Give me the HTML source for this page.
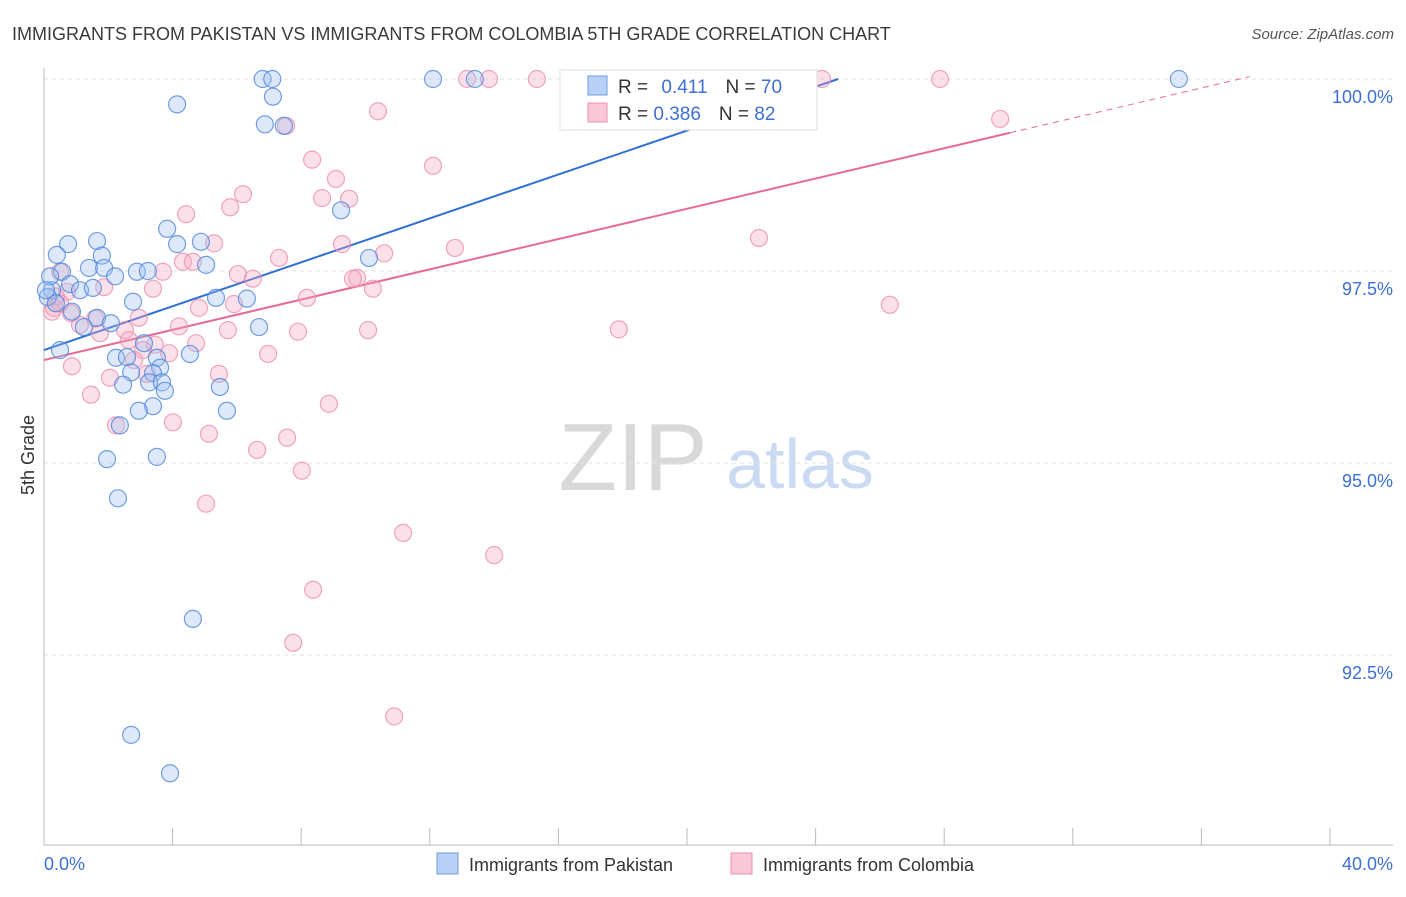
<!DOCTYPE html>
<html><head><meta charset="utf-8"><style>
body{margin:0;background:#fff;font-family:"Liberation Sans",sans-serif;}
svg text{font-family:"Liberation Sans",sans-serif;}
</style></head><body>
<svg id="chart" width="1406" height="892" viewBox="0 0 1406 892" xmlns="http://www.w3.org/2000/svg">
<text x="12" y="40" font-size="18" fill="#3a3a3a">IMMIGRANTS FROM PAKISTAN VS IMMIGRANTS FROM COLOMBIA 5TH GRADE CORRELATION CHART</text>
<text x="1394" y="39" font-size="15" fill="#555" text-anchor="end" font-style="italic">Source: ZipAtlas.com</text>
<text x="0" y="0" font-size="18" fill="#333" text-anchor="middle" transform="translate(34,455) rotate(-90)">5th Grade</text>
<g>
<text x="633" y="490" font-size="96" fill="#d8d8d8" text-anchor="middle" font-family="Liberation Serif">ZIP</text>
<text x="800" y="488" font-size="70" fill="#c9daf2" text-anchor="middle">atlas</text>
</g>
<g id="grid"></g>
<g id="axes"></g>
<g id="trends"></g>
<g id="points"></g>
<g>
<rect x="560" y="70" width="257" height="60" fill="#fff" stroke="#ddd"/>
<rect x="588" y="76" width="19" height="19" fill="#b9d0f5" stroke="#6d9be6"/>
<text x="618" y="93" font-size="19" fill="#333">R = <tspan fill="#3d6fd4" dx="8">0.411</tspan><tspan dx="18">N = </tspan><tspan fill="#3d6fd4">70</tspan></text>
<rect x="588" y="103" width="19" height="19" fill="#f9c7d6" stroke="#ec8fae"/>
<text x="618" y="120" font-size="19" fill="#333">R = <tspan fill="#3d6fd4">0.386</tspan><tspan dx="18">N = </tspan><tspan fill="#3d6fd4">82</tspan></text>
</g>
<g>
<rect x="437" y="853" width="21" height="21" fill="#b9d0f5" stroke="#6d9be6"/>
<text x="469" y="871" font-size="18" fill="#333">Immigrants from Pakistan</text>
<rect x="731" y="853" width="21" height="21" fill="#f9c7d6" stroke="#ec8fae"/>
<text x="763" y="871" font-size="18" fill="#333">Immigrants from Colombia</text>
</g>
</svg>
<script>
const yTicks=[100,97.5,95,92.5];
const yTickLabels=["100.0%","97.5%","95.0%","92.5%"];
const xTicks=[0,4,8,12,16,20,24,28,32,36,40];
const xEndLabels=["0.0%","40.0%"];
const pakX=[6.8,7.1,12.1,13.4,16.4,35.3,4.14,7.12,6.87,7.46,9.24,3.83,1.65,0.75,0.40,1.80,4.88,4.14,5.04,1.40,1.87,2.89,3.23,2.21,0.56,0.81,1.12,1.52,0.25,0.12,0.37,0.87,2.77,5.35,6.31,10.11,1.65,2.08,1.24,6.69,0.50,3.11,4.54,2.24,2.58,3.51,3.61,3.39,2.71,2.46,3.27,3.67,3.76,5.47,3.39,2.95,5.69,2.36,1.96,3.51,2.30,4.63,2.71,3.92,0.19,0.06];
const pakY=[100,100,100,100,100,100,99.67,99.77,99.41,99.39,98.29,98.05,97.89,97.85,97.71,97.70,97.88,97.85,97.58,97.54,97.54,97.49,97.50,97.43,97.49,97.33,97.25,97.28,97.25,97.16,97.08,96.97,97.10,97.15,97.14,97.67,96.89,96.82,96.77,96.77,96.47,96.56,96.42,96.37,96.38,96.37,96.24,96.17,96.18,96.02,96.05,96.05,95.94,95.99,95.74,95.68,95.68,95.49,95.05,95.08,94.54,92.97,91.46,90.96,97.43,97.25];
const colX=[13.16,13.84,15.33,20.84,24.2,27.87,10.39,7.53,29.74,8.34,12.10,9.08,8.65,9.49,6.19,5.79,4.42,9.27,12.78,10.58,22.24,5.29,7.31,4.32,4.63,3.70,6.03,6.50,9.74,9.61,10.23,3.39,1.87,0.50,0.72,0.37,0.31,0.25,0.84,0.50,8.18,4.82,5.91,26.31,2.95,1.59,4.20,5.72,7.90,10.08,17.88,2.52,1.74,1.12,4.73,2.64,3.45,3.08,3.89,6.97,2.80,0.87,2.05,5.44,3.20,1.46,8.86,4.01,2.24,5.13,7.56,6.63,8.02,5.04,11.17,14.00,8.37,7.75,10.89];
const colY=[100,100,100,100,100,100,99.58,99.39,99.48,98.95,98.87,98.70,98.45,98.44,98.50,98.33,98.24,97.85,97.80,97.73,97.93,97.86,97.67,97.62,97.62,97.49,97.46,97.40,97.41,97.40,97.27,97.27,97.29,97.49,97.23,97.17,97.02,96.97,96.95,97.08,97.15,97.02,97.07,97.06,96.89,96.88,96.78,96.73,96.71,96.73,96.74,96.73,96.69,96.80,96.56,96.60,96.54,96.47,96.43,96.42,96.34,96.26,96.11,96.16,96.16,95.89,95.77,95.53,95.49,95.38,95.33,95.17,94.90,94.47,94.09,93.80,93.35,92.66,91.70];
const pakTrend=[[0,96.47],[24.7,100]];
const colTrend=[[0,96.34],[30.05,99.30]];
const colTrendExt=[[30.05,99.30],[37.5,100.03]];

const NS="http://www.w3.org/2000/svg";
const X=v=>44+v*32.15;
const Y=v=>79+(100-v)*76.8;
function mk(tag,attrs,parent){const e=document.createElementNS(NS,tag);for(const k in attrs)e.setAttribute(k,attrs[k]);parent.appendChild(e);return e;}
const grid=document.getElementById('grid'),axes=document.getElementById('axes'),trends=document.getElementById('trends'),pts=document.getElementById('points');
yTicks.forEach((t,i)=>{
 const l=mk('line',{x1:44,x2:1393,y1:Y(t),y2:Y(t),stroke:'#e2e2e2','stroke-dasharray':'4,4'},grid);
 
 
 const tx=mk('text',{x:1393,y:Y(t)+24,'font-size':18,fill:'#3d6fd4','text-anchor':'end'},axes);
 tx.textContent=yTickLabels[i];
 
 
});
const ax=mk('line',{x1:44,x2:44,y1:68,y2:845,stroke:'#bbb'},axes);


const bx=mk('line',{x1:44,x2:1393,y1:845,y2:845,stroke:'#bbb'},axes);


xTicks.forEach(t=>{
 const l=mk('line',{x1:X(t),x2:X(t),y1:828,y2:845,stroke:'#bbb'},axes);
 
 
});
const xl0=mk('text',{x:44,y:870,'font-size':18,fill:'#3d6fd4'},axes);xl0.textContent=xEndLabels[0];


const xl1=mk('text',{x:1393,y:870,'font-size':18,fill:'#3d6fd4','text-anchor':'end'},axes);xl1.textContent=xEndLabels[1];



function drawPts(xs,ys,fill,stroke,name){
 xs.forEach((x,i)=>{
  const c=mk('circle',{cx:X(x),cy:Y(ys[i]),r:8.5,fill:fill,'fill-opacity':0.35,stroke:stroke,'stroke-width':1.2,'stroke-opacity':0.8},pts);
  
  
 });
}
drawPts(colX,colY,'#f4a7bf','#ec8fae','point-colombia');
drawPts(pakX,pakY,'#9dbff0','#4f86dd','point-pakistan');
const tp=mk('line',{x1:X(pakTrend[0][0]),y1:Y(pakTrend[0][1]),x2:X(pakTrend[1][0]),y2:Y(pakTrend[1][1]),stroke:'#2f6fd6','stroke-width':2},trends);


const tc=mk('line',{x1:X(colTrend[0][0]),y1:Y(colTrend[0][1]),x2:X(colTrend[1][0]),y2:Y(colTrend[1][1]),stroke:'#e86a94','stroke-width':2},trends);


const te=mk('line',{x1:X(colTrendExt[0][0]),y1:Y(colTrendExt[0][1]),x2:X(colTrendExt[1][0]),y2:Y(colTrendExt[1][1]),stroke:'#e86a94','stroke-width':1,'stroke-dasharray':'6,5'},trends);


</script>
</body></html>
